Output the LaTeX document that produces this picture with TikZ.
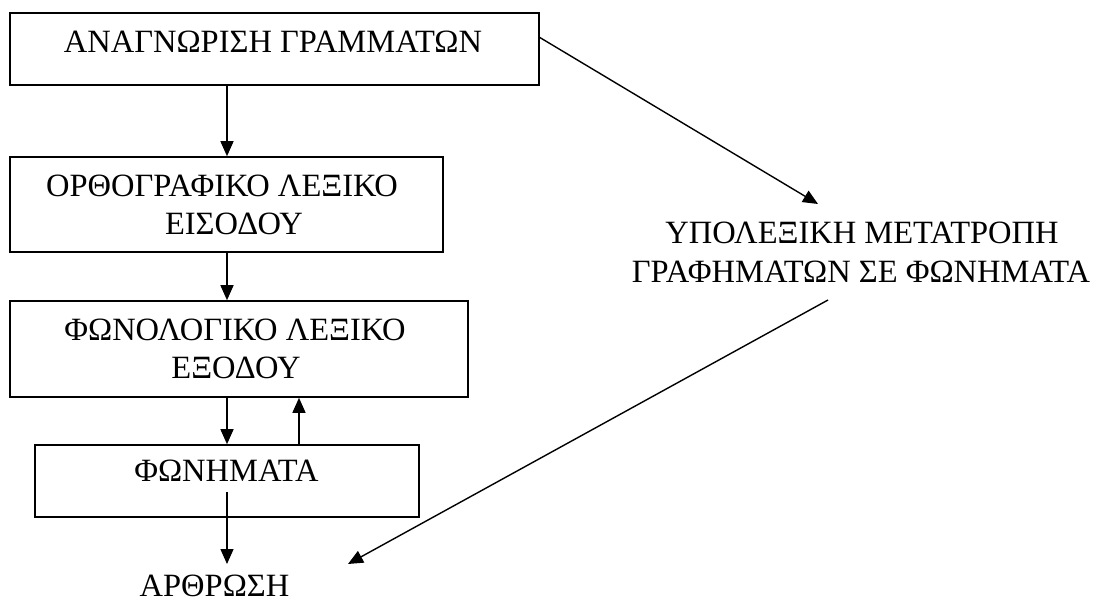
\documentclass[tikz,border=0pt]{standalone}
\usepackage{fontspec}
\setmainfont{Liberation Serif}
\usetikzlibrary{arrows.meta}
\begin{document}
\begin{tikzpicture}[x=1pt,y=-1pt,
  box/.style={draw, line width=1.6pt, inner sep=0pt},
  lbl/.style={font=\fontsize{32.5}{38}\selectfont, inner sep=0pt, anchor=base},
  arr/.style={line width=1.4pt, -{Triangle[length=15pt,width=13pt]}}]
\useasboundingbox (0,0) rectangle (1098,603);
% boxes
\node[box, minimum width=529pt, minimum height=72pt] (b1) at (274.5,49) {};
\node[box, minimum width=433pt, minimum height=95pt] (b2) at (226.5,204.5) {};
\node[box, minimum width=458pt, minimum height=96pt] (b3) at (239,349) {};
\node[box, minimum width=384pt, minimum height=72pt] (b4) at (227,481) {};
% texts
\node[lbl] (t1) at (273,52) {ΑΝΑΓΝΩΡΙΣΗ ΓΡΑΜΜΑΤΩΝ};
\node[lbl] (t2a) at (222,196) {ΟΡΘΟΓΡΑΦΙΚΟ ΛΕΞΙΚΟ};
\node[lbl] (t2b) at (234,234) {ΕΙΣΟΔΟΥ};
\node[lbl] (t3a) at (235,340) {ΦΩΝΟΛΟΓΙΚΟ ΛΕΞΙΚΟ};
\node[lbl] (t3b) at (236,378) {ΕΞΟΔΟΥ};
\node[lbl] (t4) at (226.5,481) {ΦΩΝΗΜΑΤΑ};
\node[lbl] (t5) at (214.5,596) {ΑΡΘΡΩΣΗ};
\node[lbl] (t6a) at (862,243) {ΥΠΟΛΕΞΙΚΗ ΜΕΤΑΤΡΟΠΗ};
\node[lbl] (t6b) at (861,282) {ΓΡΑΦΗΜΑΤΩΝ ΣΕ ΦΩΝΗΜΑΤΑ};
% helper coordinates
\coordinate (cx) at (227,0);
\coordinate (ux) at (299,0);
\coordinate (s5) at (227,492);
\coordinate (e5) at (227,564);
\coordinate (s6) at (539,37);
\coordinate (e6) at (818,204);
\coordinate (s7) at (828,300);
\coordinate (e7) at (348,564);
% connectors
\draw[arr] (b1.south -| cx) -- (b2.north -| cx);
\draw[arr] (b2.south -| cx) -- (b3.north -| cx);
\draw[arr] (b3.south -| cx) -- (b4.north -| cx);
\draw[arr] (b4.north -| ux) -- (b3.south -| ux);
\draw[arr] (s5) -- (e5);
\draw[arr] (s6) -- (e6);
\draw[arr] (s7) -- (e7);
\end{tikzpicture}
\end{document}
